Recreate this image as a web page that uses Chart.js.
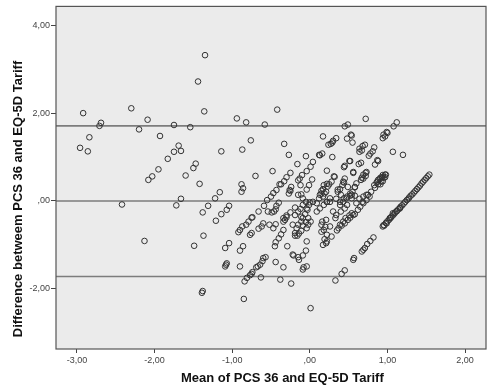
<!DOCTYPE html>
<html>
<head>
<meta charset="utf-8">
<script src="https://cdn.jsdelivr.net/npm/chart.js@4"></script>
<style>
  body { margin: 0; background: #fff; }
</style>
</head>
<body>
<canvas id="myChart" width="491" height="391"></canvas>
<script>
let myChart = document.querySelector('#myChart').getContext('2d')

// [mean, difference] pairs, grouped by area of the plot
const farLeftPoints = [
  [-2.92, 2.00], [-2.69, 1.78], [-2.71, 1.71], [-2.30, 2.11], [-2.09, 1.85], [-2.20, 1.63], [-1.75, 1.73], [-1.54, 1.68],
  [-1.93, 1.48], [-2.84, 1.45], [-2.96, 1.21], [-2.86, 1.13], [-1.69, 1.26], [-1.75, 1.12], [-1.66, 1.14], [-1.83, 0.96],
  [-1.95, 0.72], [-2.03, 0.56], [-2.08, 0.48], [-1.60, 0.58], [-1.50, 0.75], [-1.47, 0.85], [-1.42, 0.39], [-1.66, 0.05],
  [-1.72, -0.10], [-2.42, -0.08], [-2.13, -0.91], [-1.49, -1.02], [-1.35, 3.32], [-1.44, 2.72], [-1.36, 2.04]
]

const centrePoints = [
  [-0.94, 1.88], [-0.82, 1.79], [-0.58, 1.74], [-0.42, 2.08], [-0.76, 1.38], [-1.14, 1.13], [-0.87, 1.17], [-0.33, 1.30],
  [-0.27, 1.05], [-0.16, 0.84], [-0.70, 0.57], [-0.48, 0.68], [-0.25, 0.64], [-0.30, 0.54], [-0.33, 0.45], [-0.37, 0.38],
  [-0.24, 0.32], [-0.26, 0.25], [-0.88, 0.38], [-0.86, 0.29], [-0.88, 0.21], [-1.16, 0.20], [-1.22, 0.06], [-1.31, -0.11],
  [-1.38, -0.26], [-1.14, -0.30], [-1.07, -0.20], [-1.04, -0.11], [-1.21, -0.45], [-0.74, -0.37], [-0.66, -0.24], [-0.59, -0.11],
  [-0.55, 0.02], [-0.50, 0.10], [-0.47, 0.18], [-0.43, 0.25], [-0.39, 0.38], [-0.49, -0.26], [-0.44, -0.19], [-0.40, -0.04],
  [-0.19, -0.15], [-0.30, -0.37], [-0.34, -0.39], [-1.37, -0.79], [-1.09, -1.07], [-1.04, -0.96], [-0.90, -1.13], [-0.86, -1.03],
  [-1.08, -1.45], [-1.07, -1.42], [-1.09, -1.49], [-0.90, -1.49], [-0.84, -1.83], [-0.81, -1.75], [-0.77, -1.69], [-0.74, -1.62],
  [-0.69, -1.51], [-0.64, -1.45], [-0.61, -1.37], [-0.57, -1.28], [-0.63, -1.74], [-0.44, -1.39], [-0.34, -1.51], [-0.38, -1.79],
  [-0.24, -1.88], [-1.39, -2.09], [-1.38, -2.05], [-0.85, -2.23], [0.01, -2.44], [-0.77, -0.77], [-0.75, -0.73], [-0.92, -0.71],
  [-0.90, -0.66], [-0.87, -0.58], [-0.82, -0.54], [-0.79, -0.47], [-0.75, -0.38], [-0.66, -0.63], [-0.62, -0.58], [-0.60, -0.51],
  [-0.54, -0.24], [-0.46, -0.24], [-0.43, -0.11], [-0.67, -1.49], [-0.60, -1.30], [-0.75, -1.66], [-0.52, -0.54], [-0.47, -0.62],
  [-0.44, -0.53], [-0.34, -0.66], [-0.37, -0.76], [-0.40, -0.85], [-0.44, -0.94], [-0.45, -1.03], [-0.19, -0.79], [-0.16, -0.79],
  [-0.14, -0.74], [-0.11, -0.68], [-0.29, -1.03], [-0.04, -0.92], [-0.05, -1.13], [-0.09, -1.24], [-0.15, -1.28], [-0.21, -1.24],
  [-0.08, -1.51], [-0.04, -1.49], [-0.30, -0.33], [-0.34, -0.47], [-0.12, -0.18], [-0.15, -0.24], [-0.19, -0.32], [-0.03, -0.20],
  [-0.06, -0.30], [-0.09, -0.39], [-0.11, -0.47], [-0.15, -0.54], [-0.17, -0.62], [0.01, -0.47], [-0.02, -0.54], [-0.04, -0.62],
  [-0.25, -0.26], [-0.32, -0.43], [-0.09, 0.06], [0.00, -0.03], [0.04, -0.02], [-0.09, -0.09], [-0.05, -0.02], [-0.15, 0.14],
  [-0.25, 0.23], [-0.27, 0.17], [-0.10, 0.59], [-0.13, 0.51], [-0.15, 0.47], [-0.12, 0.36], [-0.05, 1.02], [-0.11, 0.15],
  [-0.22, -0.54], [-0.11, -0.36], [-0.19, -0.73], [-0.02, -0.39], [-0.05, -0.48], [-0.09, -0.56], [-0.22, -1.22], [-0.14, -1.34],
  [-0.09, -1.56]
]

const rightPoints = [
  [0.72, 1.87], [0.45, 1.70], [0.49, 1.74], [1.08, 1.70], [1.12, 1.79], [0.17, 1.47], [0.24, 1.28], [0.29, 1.33],
  [0.34, 1.43], [0.48, 1.42], [0.54, 1.49], [0.55, 1.33], [0.64, 1.19], [0.68, 1.25], [0.71, 1.28], [0.97, 1.47],
  [1.00, 1.55], [0.94, 1.43], [1.07, 1.12], [1.20, 1.05], [0.16, 1.08], [0.13, 1.04], [0.29, 1.00], [0.78, 1.08],
  [0.81, 1.13], [0.83, 1.22], [0.76, 1.03], [0.88, 0.91], [0.84, 0.83], [0.63, 0.84], [0.66, 0.87], [0.51, 0.91],
  [0.45, 0.80], [0.04, 0.89], [0.01, 0.78], [-0.04, 0.68], [0.22, 0.69], [0.56, 0.64], [0.69, 0.60], [0.72, 0.64],
  [0.67, 0.53], [0.94, 0.59], [0.97, 0.60], [0.91, 0.53], [0.88, 0.48], [0.86, 0.42], [0.83, 0.36], [0.03, 0.49],
  [-0.01, 0.36], [-0.04, 0.26], [0.32, 0.55], [0.28, 0.44], [0.25, 0.38], [0.23, 0.33], [0.44, 0.42], [0.42, 0.36],
  [0.39, 0.27], [0.58, 0.31], [0.55, 0.21], [0.52, 0.17], [0.36, 0.26], [0.15, 0.17], [0.13, 0.14], [0.12, 0.06],
  [0.21, 0.21], [0.19, 0.17], [0.09, -0.24], [0.13, -0.17], [0.18, -0.09], [0.22, -0.02], [0.30, -0.24], [0.16, -0.47],
  [0.15, -0.54], [0.20, -0.59], [0.34, -0.32], [0.33, -0.39], [0.26, -0.02], [0.34, 0.05], [0.39, -0.02], [0.44, 0.06],
  [0.48, 0.10], [0.54, 0.14], [0.48, -0.09], [0.45, -0.17], [0.40, -0.24], [0.60, -0.05], [0.64, 0.05], [0.69, 0.10],
  [0.73, 0.14], [0.56, -0.32], [0.52, -0.38], [0.49, -0.43], [0.45, -0.51], [0.41, -0.56], [0.37, -0.62], [0.35, -0.67],
  [0.26, -0.58], [0.22, -0.77], [0.19, -0.87], [0.17, -1.00], [0.75, 0.14], [0.79, 0.21], [0.84, 0.30], [0.88, 0.38],
  [0.92, 0.44], [0.97, 0.54], [0.96, -0.56], [1.03, -0.39], [1.07, -0.28], [1.12, -0.23], [1.16, -0.17], [0.82, -0.83],
  [0.78, -0.91], [0.74, -0.98], [0.71, -1.07], [0.67, -1.15], [0.57, -1.30], [0.56, -1.34], [0.45, -1.58], [0.41, -1.66],
  [0.33, -1.81], [0.17, 0.10], [0.21, -0.43], [0.15, -0.70], [0.18, -0.66], [0.28, -0.81], [0.21, -0.96], [0.22, -0.92],
  [0.69, -1.11], [0.99, -0.51], [0.39, -0.54], [0.43, -0.47], [0.46, -0.39], [0.51, -0.33], [0.54, -0.28], [0.58, -0.30],
  [0.62, -0.20], [0.65, -0.13], [0.69, -0.05], [0.73, 0.02], [0.77, 0.10], [0.39, -0.09], [0.43, -0.02], [0.47, 0.06],
  [0.52, 0.12], [0.53, 1.51], [0.27, 1.30], [0.30, 1.37], [0.95, 1.51], [0.99, 1.57], [0.12, 1.05], [0.44, 0.77],
  [0.52, 0.91], [0.67, 1.15], [0.64, 1.12], [0.87, 0.93], [0.56, 0.66], [0.73, 0.66], [0.72, 0.57], [0.69, 0.51],
  [0.66, 0.48], [0.93, 0.54], [0.90, 0.50], [0.87, 0.44], [0.31, 0.56], [0.22, 0.39], [0.18, 0.36], [0.43, 0.44],
  [0.45, 0.51], [0.49, 0.32], [0.58, 0.32], [0.60, 0.40], [0.15, 0.23], [0.17, 0.27], [0.36, 0.21], [0.40, 0.14],
  [0.58, 0.12], [0.54, 0.06], [0.68, -0.02], [0.26, 0.06], [0.22, -0.02], [-0.01, -0.09], [-0.04, -0.17], [0.09, -0.05],
  [0.98, 0.60], [0.95, 0.53], [0.94, 0.45], [0.91, 0.38]
]

// the long dense streak on the right
const streakPoints = [
  [0.94, -0.58], [0.95, -0.55], [0.98, -0.50], [1.00, -0.46], [1.02, -0.43], [1.04, -0.39], [1.05, -0.36], [1.07, -0.33],
  [1.09, -0.29], [1.10, -0.26], [1.12, -0.23], [1.14, -0.19], [1.16, -0.16], [1.17, -0.13], [1.19, -0.10], [1.21, -0.06],
  [1.23, -0.02], [1.25, 0.02], [1.27, 0.05], [1.28, 0.08], [1.30, 0.12], [1.32, 0.15], [1.34, 0.19], [1.36, 0.23],
  [1.38, 0.27], [1.40, 0.31], [1.42, 0.35], [1.44, 0.40], [1.46, 0.44], [1.48, 0.48], [1.50, 0.52], [1.52, 0.56],
  [1.54, 0.60]
]

const limitLines = [1.71, 0.00, -1.72]
const xTickValues = [-3, -2, -1, 0, 1, 2]
const yTickValues = [4, 2, 0, -2]
const xRange = [-3.27, 2.27]
const yRange = [-3.37, 4.43]
const xTitle = 'Mean of PCS 36 and EQ-5D Tariff'
const yTitle = 'Difference betweem PCS 36 and EQ-5D Tariff'

const points = farLeftPoints.concat(centrePoints, rightPoints, streakPoints).map(p => ({x: p[0], y: p[1]}))

// SPSS style: comma decimals and no leading zero
const spssLabel = (v) => {
    let s = Math.abs(v).toFixed(2).replace('.', ',')
    if (s.startsWith('0')) s = s.slice(1)
    return (v < 0 ? '-' : '') + s
}

const lineSets = limitLines.map(v => ({
    type: 'line',
    data: [{x: xRange[0], y: v}, {x: xRange[1], y: v}],
    borderColor: '#7c7c7c',
    borderWidth: 1.6,
    pointRadius: 0,
    order: 2
}))

// grey plot box, its frame, and the SPSS axis titles (which sit a bit off centre)
const plotBox = {
    id: 'plotBox',
    beforeDraw(chart) {
        const a = chart.chartArea
        const c = chart.ctx
        c.save()
        c.fillStyle = '#ebebeb'
        c.fillRect(a.left, a.top, a.right - a.left, a.bottom - a.top)
        c.restore()
    },
    afterDraw(chart) {
        const a = chart.chartArea
        const c = chart.ctx
        c.save()
        c.strokeStyle = '#555'
        c.lineWidth = 1.2
        c.strokeRect(a.left, a.top, a.right - a.left, a.bottom - a.top)

        c.fillStyle = '#111'
        c.font = 'bold 13px "Liberation Sans", Arial, sans-serif'
        c.textBaseline = 'middle'
        c.textAlign = 'left'
        c.fillText(xTitle, 181, 378)

        c.translate(18, 199)
        c.rotate(-Math.PI / 2)
        c.textAlign = 'center'
        c.fillText(yTitle, 0, 0)
        c.restore()
    }
}

const tickFont = {family: '"Liberation Sans", Arial, sans-serif', size: 9}

let blandChart = new Chart(myChart, {
    type: 'scatter',
    data: {
        datasets: [{
            data: points,
            pointStyle: 'circle',
            pointRadius: 2.8,
            pointBorderWidth: 1,
            pointBorderColor: '#333',
            pointBackgroundColor: 'rgba(0,0,0,0)',
            order: 1
        }].concat(lineSets)
    },
    options: {
        responsive: false,
        animation: false,
        events: [],
        layout: {padding: {top: 5, right: 4, left: 0, bottom: 0}},
        plugins: {legend: {display: false}, tooltip: {enabled: false}},
        scales: {
            x: {
                type: 'linear',
                min: xRange[0],
                max: xRange[1],
                afterBuildTicks: (scale) => { scale.ticks = xTickValues.map(v => ({value: v})) },
                afterFit: (scale) => { scale.height = 42 },
                ticks: {callback: (v) => spssLabel(v), font: tickFont, color: '#444', padding: 2, maxRotation: 0},
                grid: {drawOnChartArea: false, drawTicks: true, tickLength: 4, color: '#444'},
                border: {display: false}
            },
            y: {
                type: 'linear',
                min: yRange[0],
                max: yRange[1],
                afterBuildTicks: (scale) => { scale.ticks = yTickValues.map(v => ({value: v})) },
                afterFit: (scale) => { scale.width = 56 },
                ticks: {callback: (v) => spssLabel(v), font: tickFont, color: '#444', padding: 1},
                grid: {drawOnChartArea: false, drawTicks: true, tickLength: 5, color: '#444'},
                border: {display: false}
            }
        }
    },
    plugins: [plotBox]
})
</script>
</body>
</html>
